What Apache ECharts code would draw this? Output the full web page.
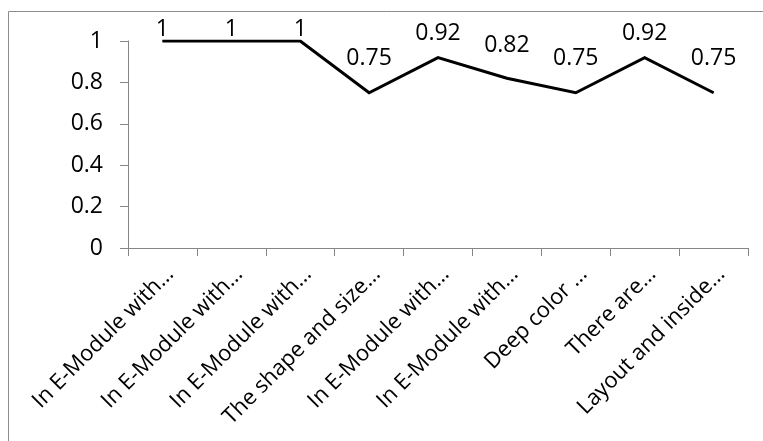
<!DOCTYPE html>
<html>
<head>
<meta charset="utf-8">
<script src="https://cdn.jsdelivr.net/npm/echarts@6/dist/echarts.min.js"></script>
<style>
  html, body { margin: 0; padding: 0; background: #fff; }
  #chart { width: 763px; height: 441px; }
</style>
</head>
<body>
<div id="chart"></div>
<script>
// Questionnaire items (shortened as on the axis) and their scores
const categories = [
  'In E-Module with…',
  'In E-Module with…',
  'In E-Module with…',
  'The shape and size…',
  'In E-Module with…',
  'In E-Module with…',
  'Deep color …',
  'There are…',
  'Layout and inside…'
];
const scores = [1, 1, 1, 0.75, 0.92, 0.82, 0.75, 0.92, 0.75];
const yTicks = { min: 0, max: 1, interval: 0.2 };

// Per-point gap between each value label and its point (pixels)
const labelGap = [0, 0, 0, 22, 12, 21, 22, 12, 22];

const FONT = '"Open Sans", "Noto Sans", sans-serif';
const AXIS_GREY = '#868686';

const chart = echarts.init(document.getElementById('chart'), null, { renderer: 'canvas' });

chart.setOption({
  animation: false,
  backgroundColor: '#fff',
  textStyle: { fontFamily: FONT },
  graphic: [{
    type: 'rect',
    shape: { x: 8.5, y: 11.5, width: 800, height: 500 },
    style: { fill: 'none', stroke: '#8c8c8c', lineWidth: 1 },
    silent: true
  }],
  grid: { left: 128, top: 41, right: 15, bottom: 193 },
  xAxis: {
    type: 'category',
    data: categories,
    boundaryGap: true,
    axisLine: { lineStyle: { color: AXIS_GREY, width: 1 } },
    axisTick: { show: true, length: 8, alignWithLabel: false, interval: 0, lineStyle: { color: AXIS_GREY } },
    axisLabel: {
      interval: 0,
      rotate: 45,
      margin: 15,
      verticalAlign: 'top',
      color: '#000',
      fontFamily: FONT,
      fontSize: 22
    },
    splitLine: { show: false }
  },
  yAxis: {
    type: 'value',
    min: yTicks.min,
    max: yTicks.max,
    interval: yTicks.interval,
    axisLine: { show: true, lineStyle: { color: AXIS_GREY, width: 1 } },
    axisTick: { show: true, length: 8, lineStyle: { color: AXIS_GREY } },
    axisLabel: {
      margin: 25,
      color: '#000',
      fontFamily: FONT,
      fontSize: 23,
      formatter: v => String(Math.round(v * 10) / 10)
    },
    splitLine: { show: false }
  },
  series: [{
    type: 'line',
    data: scores.map((v, i) => ({
      value: v,
      label: { distance: labelGap[i] }
    })),
    symbol: 'circle',
    symbolSize: 1,
    itemStyle: { color: '#000' },
    lineStyle: { color: '#000', width: 3, join: 'miter' },
    label: {
      show: true,
      position: 'top',
      color: '#000',
      fontFamily: FONT,
      fontSize: 23,
      formatter: p => String(p.value)
    }
  }]
});
</script>
</body>
</html>
